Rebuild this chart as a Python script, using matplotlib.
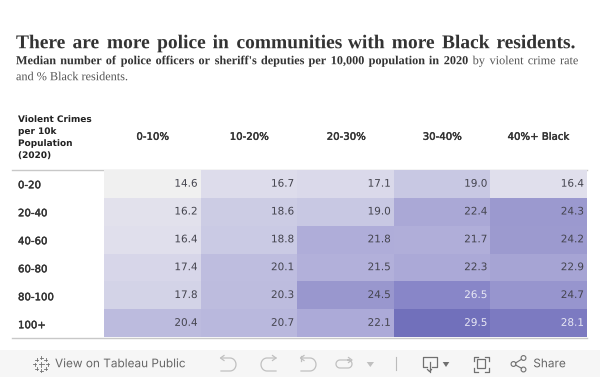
import matplotlib
matplotlib.use("Agg")
import matplotlib.pyplot as plt
import matplotlib.patheffects as pe
from matplotlib.colors import LinearSegmentedColormap
from matplotlib.patches import Rectangle, Circle
import numpy as np

W, H = 600, 377

black_cols = ["0-10%", "10-20%", "20-30%", "30-40%", "40%+ Black"]
crime_rows = ["0-20", "20-40", "40-60", "60-80", "80-100", "100+"]
col1 = [14.6, 16.2, 16.4, 17.4, 17.8, 20.4]
col2 = [16.7, 18.6, 18.8, 20.1, 20.3, 20.7]
col3 = [17.1, 19.0, 21.8, 21.5, 24.5, 22.1]
col4 = [19.0, 22.4, 21.7, 22.3, 26.5, 29.5]
col5 = [16.4, 24.3, 24.2, 22.9, 24.7, 28.1]

vals = np.array([col1, col2, col3, col4, col5]).T

vmin, vmax = 14.6, 29.5
stops = [(14.6, "#f0f0f0"), (16.4, "#e0dfec"), (19.0, "#c8c8e3"),
         (22.0, "#adabd8"), (24.3, "#9b99cf"), (26.5, "#8886c8"), (29.5, "#7170bb")]
cmap = LinearSegmentedColormap.from_list(
    "purp", [((v - vmin) / (vmax - vmin), c) for v, c in stops])

plt.rcParams["text.hinting"] = "none"
plt.rcParams["text.hinting_factor"] = 1

#drawing text as paths keeps baselines level, agg rounds each word on its own
as_path = [pe.Normal()]

fig = plt.figure(figsize=(W / 100, H / 100), dpi=100, facecolor="white")

#overlay in pixel coords for text and toolbar
bg = fig.add_axes([0, 0, 1, 1])
bg.set_xlim(0, W)
bg.set_ylim(H, 0)
bg.axis("off")

#heatmap
x0, x1, y0, y1 = 104, 587, 170, 337
ax = fig.add_axes([x0 / W, 1 - y1 / H, (x1 - x0) / W, (y1 - y0) / H])
ax.pcolormesh(vals, cmap=cmap, vmin=vmin, vmax=vmax)
ax.set_xlim(0, 5)
ax.set_ylim(6, 0)
ax.axis("off")
for r in range(6):
    for c in range(5):
        ax.text(c + 0.959, r + 0.5, "%.1f" % vals[r, c], ha="right", va="center",
                fontsize=7.5, family="DejaVu Sans", path_effects=as_path,
                color="#e8e8f4" if vals[r, c] > 26 else "#44444e")

#rules above and below the table
bg.plot([12, 587], [170, 170], color="#c8c8c8", lw=1)
bg.plot([12, 587], [337.5, 337.5], color="#c8c8c8", lw=1)

#row and column headers, regular face with a thin stroke to get the semibold look
semi = [pe.withStroke(linewidth=0.3, foreground="#333333")]
row_y = [185.5, 213.5, 241.5, 269.5, 297.5, 325.5]
for name, y in zip(crime_rows, row_y):
    bg.text(18, y, name, fontsize=7.3, color="#333333", va="center", path_effects=semi)
col_x = [152.5, 249, 346, 442, 538]
for name, x in zip(black_cols, col_x):
    bg.text(x, 137, name, fontsize=7.3, color="#333333",
            ha="center", va="center", path_effects=semi)
for i, line in enumerate(["Violent Crimes", "per 10k", "Population", "(2020)"]):
    bg.text(18, 119.5 + i * 12, line, fontsize=6.45, fontweight="bold",
            color="#222222", va="center", path_effects=as_path)


#tableau title text is justified, so lay the words out one at a time
def justified(words, x_left, x_right, y, size):
    rend = fig.canvas.get_renderer()
    items = []
    for word, weight, color in words:
        t = bg.text(x_left, y, word, fontsize=size, family="Liberation Serif",
                    fontweight=weight, color=color, va="baseline", path_effects=as_path)
        items.append((t, t.get_window_extent(rend).width))
    gap = (x_right - x_left - sum(w for _, w in items)) / (len(items) - 1)
    x = x_left
    for t, w in items:
        t.set_x(x)
        x += w + gap


title = "There are more police in communities with more Black residents."
justified([(w, "bold", "#333333") for w in title.split()], 16, 574, 48.2, 14)
sub_bold = "Median number of police officers or sheriff's deputies per 10,000 population in 2020"
sub_norm = "by violent crime rate"
justified([(w, "bold", "#333333") for w in sub_bold.split()] +
          [(w, "normal", "#555555") for w in sub_norm.split()], 16, 578, 64.2, 8.8)
bg.text(16, 80.2, "and % Black residents.", fontsize=8.8, family="Liberation Serif",
        color="#555555", va="baseline", path_effects=as_path)

#toolbar
bg.add_patch(Rectangle((0, 350), W, 27, color="#f6f6f6", lw=0))
bg.text(55, 364, "View on Tableau Public", fontsize=8.5, family="Inter", color="#666666",
        va="center", path_effects=as_path)
ic = "#707070"
lt = "#c0c0c0"
#tableau logo
for dx, dy, s in [(0, 0, 5), (-6.5, 0, 3), (6.5, 0, 3), (0, -6.5, 3), (0, 6.5, 3),
                  (-4.5, -4.5, 2.5), (4.5, -4.5, 2.5), (-4.5, 4.5, 2.5), (4.5, 4.5, 2.5)]:
    bg.plot([41 + dx - s / 2, 41 + dx + s / 2], [364 + dy] * 2, color=ic, lw=0.6)
    bg.plot([41 + dx] * 2, [364 + dy - s / 2, 364 + dy + s / 2], color=ic, lw=0.6)
#undo, redo, revert
t = np.linspace(-np.pi / 2, np.pi / 2, 20)
for off in (0, 80):
    bg.plot([221 + off, 230 + off] + list(230 + off + 6 * np.cos(t)) + [221 + off],
            [358, 358] + list(364.5 + 6.5 * np.sin(t)) + [371], color=lt, lw=0.9)
    bg.plot([224 + off, 220.5 + off, 224 + off], [355.5, 358, 360.5], color=lt, lw=0.9)
bg.plot([300.5, 300.5], [355.5, 361], color=lt, lw=0.9)
bg.plot([276, 267] + list(267 - 6 * np.cos(t)) + [276],
        [358, 358] + list(364.5 + 6.5 * np.sin(t)) + [371], color=lt, lw=0.9)
bg.plot([272.5, 276, 272.5], [355.5, 358, 360.5], color=lt, lw=0.9)
#second redo and dropdown
bg.plot([350, 340] + list(340 - 4 * np.cos(t)) + [348] + list(348 + 4 * np.cos(t[::-1])),
        [360, 360] + list(364 + 4 * np.sin(t)) + [368] + list(364 + 4 * np.sin(t[::-1])),
        color=lt, lw=0.9)
bg.plot([348.5, 352, 348.5], [357.5, 360, 362.5], color=lt, lw=0.9)
bg.fill([366.7, 374, 370.3], [362, 362, 367], color=lt, lw=0)
bg.plot([395.5, 395.5], [357, 370], color="#bbbbbb", lw=0.8)
#download
bg.plot([427, 423, 423, 436.5, 436.5, 432], [367, 367, 357, 357, 367, 367], color=ic, lw=0.9)
bg.plot([429.5, 429.5], [362, 371.5], color=ic, lw=0.9)
bg.plot([427.5, 429.5, 431.5], [369.5, 371.5, 369.5], color=ic, lw=0.9)
bg.fill([442.7, 449.3, 446], [362, 362, 367], color=ic, lw=0)
#fullscreen
bg.add_patch(Rectangle((476.7, 359), 8.5, 9, fill=False, ec=ic, lw=0.9))
for cx, cy, sx, sy in [(473.5, 356.5, 1, 1), (488.5, 356.5, -1, 1),
                       (473.5, 371.5, 1, -1), (488.5, 371.5, -1, -1)]:
    bg.plot([cx + 4 * sx, cx, cx], [cy, cy, cy + 4 * sy], color=ic, lw=0.9)
#share
for cx, cy in [(513.5, 364), (523.5, 358), (523.5, 369.5)]:
    bg.add_patch(Circle((cx, cy), 2.4, fill=False, ec=ic, lw=0.8))
bg.plot([515.5, 521.5], [363, 359.3], color=ic, lw=0.8)
bg.plot([515.5, 521.5], [365, 368.2], color=ic, lw=0.8)
bg.text(533.3, 364, "Share", fontsize=8.5, family="Inter", color="#666666",
        va="center", path_effects=as_path)

bg.set_xlim(0, W)
bg.set_ylim(H, 0)
fig.savefig("out.png", dpi=100)
